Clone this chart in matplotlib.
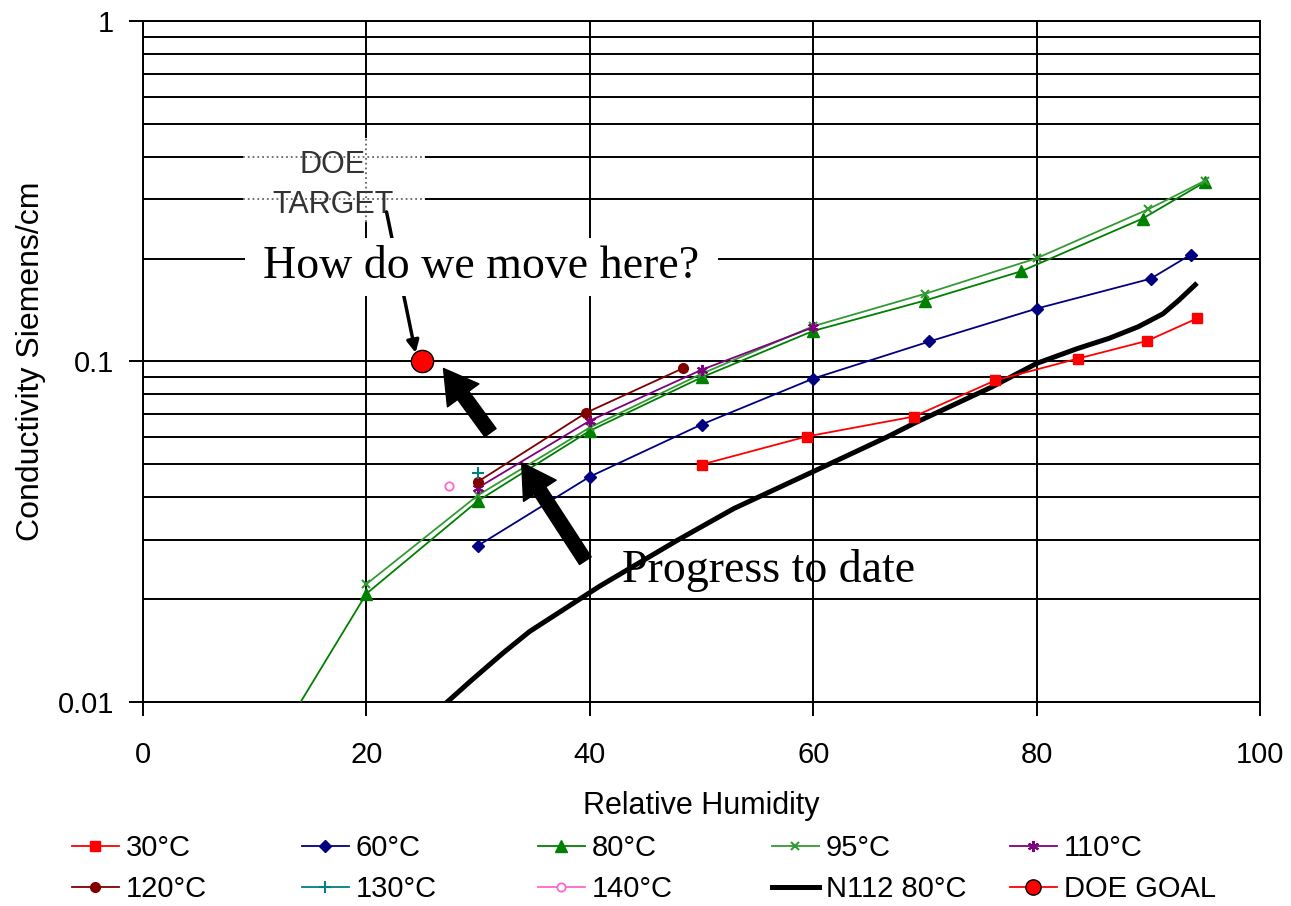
import numpy as np
import matplotlib
matplotlib.use('Agg')
import matplotlib.pyplot as plt
from matplotlib.patches import Rectangle
from matplotlib.lines import Line2D
from matplotlib.ticker import LogLocator, NullFormatter, FuncFormatter

plt.rcParams['font.family'] = ['Liberation Sans', 'DejaVu Sans']
serif = ['Liberation Serif', 'DejaVu Serif']

# data (RH %, conductivity S/cm)
rh_30 = [50, 59.4, 69, 76.3, 83.7, 89.9, 94.4]
s_30 = [0.0498, 0.0602, 0.0689, 0.088, 0.102, 0.115, 0.134]
rh_60 = [30, 40, 50, 60, 70.4, 80, 90.2, 93.8]
s_60 = [0.0288, 0.0459, 0.0653, 0.0891, 0.1145, 0.143, 0.175, 0.206]
rh_80 = [10, 20, 30, 40, 50, 60, 70, 78.6, 89.5, 95.1]
s_80 = [0.006, 0.0208, 0.039, 0.0626, 0.0898, 0.123, 0.151, 0.184, 0.263, 0.337]
rh_95 = [20, 30, 40, 50, 60, 70, 80, 90, 95.1]
s_95 = [0.0222, 0.0405, 0.064, 0.092, 0.127, 0.158, 0.201, 0.28, 0.34]
rh_110 = [30, 40, 50, 60]
s_110 = [0.0426, 0.067, 0.0945, 0.126]
rh_120 = [30, 39.7, 48.3]
s_120 = [0.0444, 0.0708, 0.0954]
rh_130 = [30]
s_130 = [0.0472]
rh_140 = [27.4]
s_140 = [0.0432]
rh_n112 = [26, 29.3, 32.2, 34.6, 40.9, 47.8, 52.9, 60, 66.6, 69.1, 76, 80, 83.6,
           86.5, 89.1, 91.3, 92.7, 94.2]
s_n112 = [0.0092, 0.0115, 0.0139, 0.0161, 0.0219, 0.0298, 0.037, 0.0475, 0.060, 0.066,
          0.0842, 0.0987, 0.109, 0.117, 0.1265, 0.138, 0.151, 0.168]
rh_goal = [25]
s_goal = [0.1]

fig = plt.figure(figsize=(12.91, 9.06), dpi=100)
ax = fig.add_axes([0.1108, 0.2252, 0.8652, 0.7516])
ax.set_yscale('log')
ax.set_xlim(0, 100)
ax.set_ylim(0.01, 1)
ax.set_xticks(range(0, 101, 20))
ax.yaxis.set_major_locator(LogLocator(base=10, numticks=5))
ax.yaxis.set_minor_locator(LogLocator(base=10, subs=np.arange(2, 10), numticks=20))
ax.yaxis.set_minor_formatter(NullFormatter())
ax.yaxis.set_major_formatter(FuncFormatter(lambda v, p: f'{v:g}'))
ax.set_axisbelow(True)
ax.grid(True, axis='y', which='both', color='black', lw=1.4)
ax.grid(True, axis='x', which='major', color='black', lw=1.4)
ax.tick_params(which='minor', length=0)
ax.tick_params(which='major', length=10, width=1.4, labelsize=21)
ax.tick_params(axis='x', pad=18)
ax.tick_params(axis='y', pad=11)
for sp in ax.spines.values():
    sp.set_linewidth(1.4)

lw = 1.3
l30, = ax.plot(rh_30, s_30, '-s', color='#FF0000', lw=lw, ms=7, label='30°C', zorder=4)
l60, = ax.plot(rh_60, s_60, '-D', color='#000080', lw=lw, ms=6, label='60°C', zorder=4)
l80, = ax.plot(rh_80, s_80, '-^', color='#008000', lw=lw, ms=8, label='80°C', zorder=4)
l95, = ax.plot(rh_95, s_95, '-x', color='#339933', lw=lw, ms=6, mew=1.5, label='95°C', zorder=4)
l110, = ax.plot(rh_110, s_110, '-', marker=(6, 2, 0), color='#800080', lw=lw, ms=8, mew=1.5,
                label='110°C', zorder=4)
l120, = ax.plot(rh_120, s_120, '-o', color='#800000', lw=lw, ms=7, label='120°C', zorder=4)
l130, = ax.plot(rh_130, s_130, '-+', color='#008080', lw=lw, ms=9, mew=1.5, label='130°C', zorder=4)
l140, = ax.plot(rh_140, s_140, '-o', color='#FF66CC', mfc='white', mew=1.3, lw=lw, ms=6,
                label='140°C', zorder=4)
ln, = ax.plot(rh_n112, s_n112, '-', color='black', lw=3.6, label='N112 80°C', zorder=3)
lg, = ax.plot(rh_goal, s_goal, '-o', color='#FF0000', mfc='#FF0000', mec='black', mew=1,
              lw=lw, ms=16, label='DOE GOAL', zorder=6)

ax.set_xlabel('Relative Humidity', fontsize=22, labelpad=16)
ax.set_ylabel('Conductivity Siemens/cm', fontsize=23, labelpad=8)

# DOE TARGET label box
ax.add_patch(Rectangle((8.95, 0.257), 16.3, 0.196, facecolor='white', edgecolor='none', zorder=2))
ax.hlines([0.3, 0.4], 8.95, 25.25, colors='#666666', linestyles=':', lw=1.3, zorder=2.5)
ax.vlines(20, 0.257, 0.453, colors='#666666', linestyles=':', lw=1.3, zorder=2.5)
ax.text(17.0, 0.33, 'DOE\nTARGET', ha='center', va='center', fontsize=22, color='#333333',
        linespacing=1.4, zorder=2.6)

# arrow from target label to goal
ax.annotate('', xy=(24.4, 0.106), xytext=(21.8, 0.275),
            arrowprops=dict(arrowstyle='-|>', color='black', lw=2.5, mutation_scale=18,
                            shrinkA=0, shrinkB=0), zorder=4.5)

# "How do we move here?" box
ax.add_patch(Rectangle((9.13, 0.156), 42.35, 0.074, facecolor='white', edgecolor='none', zorder=5))
ax.text(30.3, 0.19, 'How do we move here?', ha='center', va='center', fontsize=33,
        family=serif, zorder=5.5)

ax.text(42.9, 0.0243, 'Progress to date', ha='left', va='center', fontsize=33,
        family=serif, zorder=5.5)

arrow_style = 'simple,head_length=0.6,head_width=0.7,tail_width=0.25'
ax.annotate('', xy=(26.9, 0.0954), xytext=(31.1, 0.0618),
            arrowprops=dict(arrowstyle=arrow_style, fc='black', ec='black',
                            mutation_scale=40, shrinkA=0, shrinkB=0), zorder=5)
ax.annotate('', xy=(33.9, 0.0504), xytext=(39.6, 0.026),
            arrowprops=dict(arrowstyle=arrow_style, fc='black', ec='black',
                            mutation_scale=40, shrinkA=0, shrinkB=0), zorder=5)

# legend: five evenly spaced columns of two rows, like the Excel key
goal_key = Line2D([], [], color='#FF0000', marker='o', mfc='#FF0000', mec='black', mew=1,
                  lw=lw, ms=11)
legend_cols = [(l30, l120), (l60, l130), (l80, l140), (l95, ln), (l110, goal_key)]
legend_labels = [('30°C', '120°C'), ('60°C', '130°C'), ('80°C', '140°C'),
                 ('95°C', 'N112 80°C'), ('110°C', 'DOE GOAL')]
col_x = [0.0558, 0.2339, 0.4167, 0.598, 0.7823]
for hs, labs, x in zip(legend_cols, legend_labels, col_x):
    fig.legend(list(hs), list(labs), loc='upper left', bbox_to_anchor=(x, 0.079),
               frameon=False, fontsize=21, handlelength=1.6, handletextpad=0.25,
               labelspacing=0.44, borderaxespad=0, borderpad=0)

fig.savefig('out.png', dpi=100)
